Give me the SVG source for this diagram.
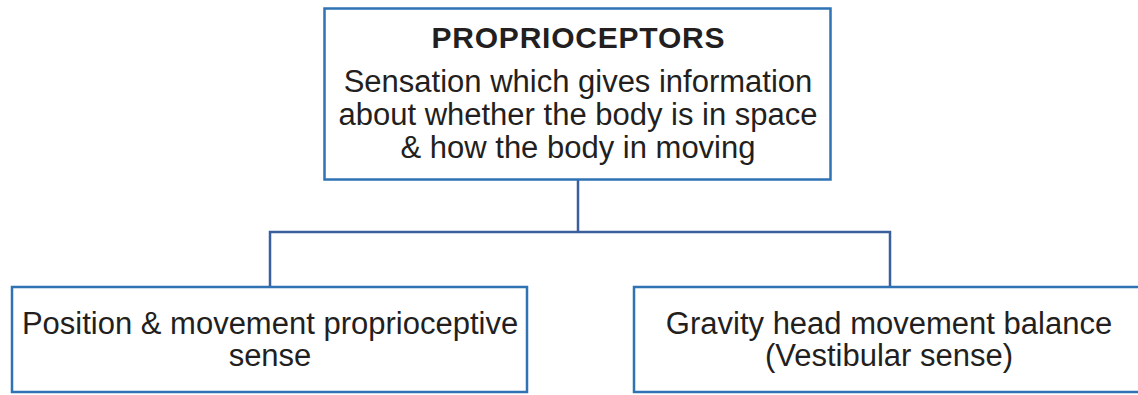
<svg xmlns="http://www.w3.org/2000/svg" width="1138" height="395" viewBox="0 0 1138 395">
<style>
.box{fill:#fff;stroke:#2f73b5;stroke-width:2.5}
.conn{fill:none;stroke:#3a5f9c;stroke-width:2.5}
text{font-family:"Liberation Sans",Arial,sans-serif;fill:#231f20;text-anchor:middle;font-size:31px}
.t{font-weight:bold;font-size:30px}
</style>
<rect width="1138" height="395" fill="#fff"/>
<g id="connectors">
<path class="conn" d="M578,180 V232 M270,287 V232 H890 V287"/>
</g>
<g id="root">
<rect class="box" x="324.5" y="8.5" width="506" height="171"/>
<text class="t" x="578" y="48" textLength="293">PROPRIOCEPTORS</text>
<text x="578" y="92">Sensation which gives information</text>
<text x="578" y="125">about whether the body is in space</text>
<text x="578" y="158">&amp; how the body in moving</text>
</g>
<g id="position">
<rect class="box" x="12" y="287" width="515" height="105"/>
<text x="270" y="334">Position &amp; movement proprioceptive</text>
<text x="270" y="366">sense</text>
</g>
<g id="gravity">
<rect class="box" x="634" y="287" width="510" height="105"/>
<text x="889" y="334">Gravity head movement balance</text>
<text x="889" y="366">(Vestibular sense)</text>
</g>
</svg>
